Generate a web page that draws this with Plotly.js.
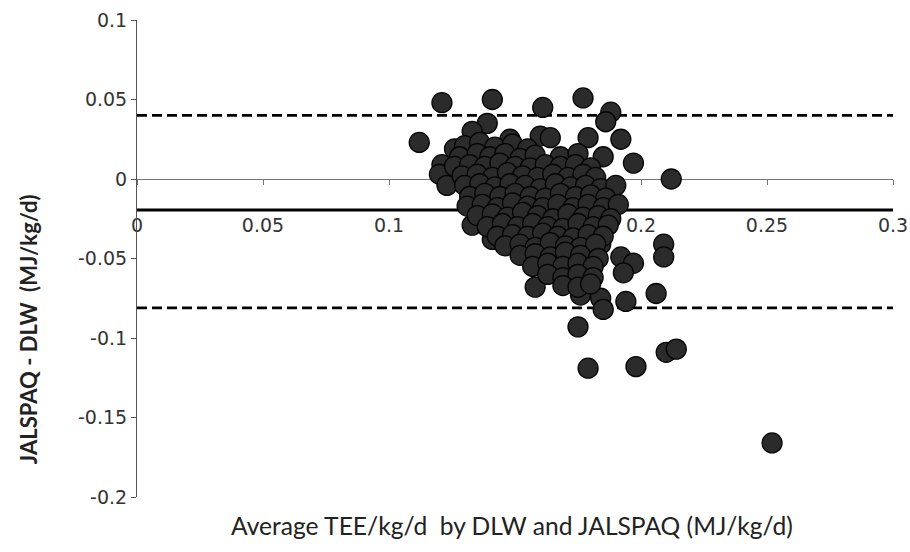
<!DOCTYPE html>
<html>
<head>
<meta charset="utf-8">
<script src="https://cdn.plot.ly/plotly-3.0.1.min.js"></script>
<style>html,body{margin:0;padding:0;background:#fff;}#chart{width:910px;height:552px;}</style>
</head>
<body>
<div id="chart"></div>
<script>
// Average of DLW and JALSPAQ TEE (MJ/kg/d)
const avgTEE = [
  0.112,0.121,0.141,0.161,0.177,0.188,0.186,0.139,0.133,0.160,0.164,0.179,0.192,0.185,0.197,0.212,0.126,0.121,0.120,0.123,0.148,
  0.133,0.141,0.184,0.209,0.209,0.176,0.184,0.185,0.194,0.206,0.175,0.179,0.198,0.210,0.214,0.252,0.158,0.192,0.197,0.193,
  0.130,0.136,0.142,0.149,0.155,
  0.128,0.135,0.140,0.146,0.152,0.158,0.168,0.175,
  0.126,0.132,0.138,0.144,0.150,0.156,0.162,0.168,0.174,0.180,
  0.129,0.135,0.141,0.147,0.153,0.159,0.165,0.171,0.177,0.182,
  0.130,0.136,0.142,0.148,0.154,0.160,0.166,0.172,0.178,0.184,0.190,
  0.132,0.138,0.144,0.150,0.156,0.162,0.168,0.174,0.180,0.186,
  0.131,0.137,0.143,0.149,0.155,0.161,0.167,0.173,0.179,0.185,0.191,
  0.135,0.141,0.147,0.153,0.159,0.165,0.171,0.177,0.183,0.188,
  0.139,0.145,0.151,0.157,0.163,0.169,0.175,0.181,0.187,
  0.143,0.149,0.155,0.161,0.167,0.173,0.179,0.185,
  0.146,0.152,0.158,0.164,0.170,0.176,0.182,
  0.152,0.158,0.164,0.170,0.176,0.183,
  0.157,0.163,0.169,0.175,0.181,
  0.163,0.169,0.175,0.181,
  0.169,0.175,0.180
];
// Difference JALSPAQ - DLW (MJ/kg/d)
const diffTEE = [
  0.023,0.048,0.050,0.045,0.051,0.042,0.036,0.035,0.030,0.027,0.026,0.026,0.025,0.014,0.010,0.000,0.019,0.009,0.003,-0.004,0.025,
  -0.029,-0.038,-0.041,-0.041,-0.049,-0.073,-0.075,-0.082,-0.077,-0.072,-0.093,-0.119,-0.118,-0.109,-0.107,-0.166,-0.068,-0.049,-0.053,-0.059,
  0.021,0.023,0.020,0.022,0.019,
  0.014,0.016,0.014,0.016,0.013,0.015,0.014,0.016,
  0.008,0.009,0.008,0.010,0.008,0.007,0.009,0.008,0.009,0.007,
  0.002,0.003,0.001,0.004,0.002,0.001,0.003,0.001,0.003,0.001,
  -0.004,-0.003,-0.005,-0.003,-0.004,-0.006,-0.003,-0.005,-0.004,-0.006,-0.004,
  -0.011,-0.009,-0.011,-0.009,-0.011,-0.012,-0.009,-0.011,-0.010,-0.012,
  -0.017,-0.016,-0.018,-0.015,-0.017,-0.018,-0.016,-0.018,-0.016,-0.018,-0.016,
  -0.023,-0.022,-0.024,-0.021,-0.023,-0.025,-0.022,-0.024,-0.023,-0.025,
  -0.030,-0.028,-0.030,-0.028,-0.030,-0.031,-0.028,-0.030,-0.029,
  -0.036,-0.035,-0.036,-0.034,-0.036,-0.037,-0.035,-0.036,
  -0.042,-0.041,-0.043,-0.040,-0.042,-0.043,-0.041,
  -0.048,-0.047,-0.049,-0.046,-0.048,-0.050,
  -0.055,-0.053,-0.055,-0.053,-0.055,
  -0.060,-0.062,-0.060,-0.062,
  -0.067,-0.068,-0.066
];
const meanDiff = -0.0195;
const upperLoA = 0.040;
const lowerLoA = -0.081;
const lineX = [0, 0.3];
const xTickVals = [0, 0.05, 0.1, 0.15, 0.2, 0.25, 0.3];
const xTickText = ["0", "0.05", "0.1", "0.15", "0.2", "0.25", "0.3"];
const yTickVals = [-0.2, -0.15, -0.1, -0.05, 0, 0.05, 0.1];
const yTickText = ["-0.2", "-0.15", "-0.1", "-0.05", "0", "0.05", "0.1"];

const tickFont = {family: "DejaVu Sans", size: 19, color: "#333"};

const traces = [
  {x: lineX, y: [upperLoA, upperLoA], mode: "lines", line: {color: "#000", width: 2.8, dash: "10px,5px"}, hoverinfo: "skip"},
  {x: lineX, y: [lowerLoA, lowerLoA], mode: "lines", line: {color: "#000", width: 2.8, dash: "10px,5px"}, hoverinfo: "skip"},
  {x: lineX, y: [meanDiff, meanDiff], mode: "lines", line: {color: "#000", width: 3.2}, hoverinfo: "skip"},
  {x: avgTEE, y: diffTEE, mode: "markers", type: "scatter",
   marker: {size: 20, color: "#2b2b2b", line: {color: "#050505", width: 1.3}}}
];

const layout = {
  width: 910, height: 552,
  margin: {l: 137, r: 17, t: 20, b: 55},
  paper_bgcolor: "#fff", plot_bgcolor: "#fff",
  showlegend: false,
  xaxis: {
    range: [0, 0.3], tickvals: xTickVals, ticktext: xTickText,
    anchor: "free", position: 2/3,
    showline: true, linecolor: "#777", linewidth: 1,
    ticks: "outside", ticklen: 5, tickcolor: "#777",
    showgrid: false, zeroline: false,
    tickfont: tickFont, ticklabelstandoff: 24,
    layer: "below traces"
  },
  yaxis: {
    range: [-0.2, 0.1], tickvals: yTickVals, ticktext: yTickText,
    showline: true, linecolor: "#555", linewidth: 1,
    ticks: "outside", ticklen: 5, tickcolor: "#555",
    showgrid: false, zeroline: false,
    tickfont: tickFont
  },
  annotations: [
    {text: "Average TEE/kg/d\u00a0 by DLW and JALSPAQ (MJ/kg/d)", xref: "paper", yref: "paper",
     x: 0.4966, y: -0.059, xanchor: "center", yanchor: "middle", showarrow: false,
     font: {family: "Lato", size: 24.6, color: "#222"}},
    {text: "<b>JALSPAQ - DLW\u00a0 (MJ/kg/d)</b>", xref: "paper", yref: "paper",
     x: -0.144, y: 0.352, xanchor: "center", yanchor: "middle", showarrow: false, textangle: -90,
     font: {family: "Lato", size: 22, color: "#222"}}
  ]
};

Plotly.newPlot("chart", traces, layout, {displayModeBar: false, staticPlot: true});
</script>
</body>
</html>
